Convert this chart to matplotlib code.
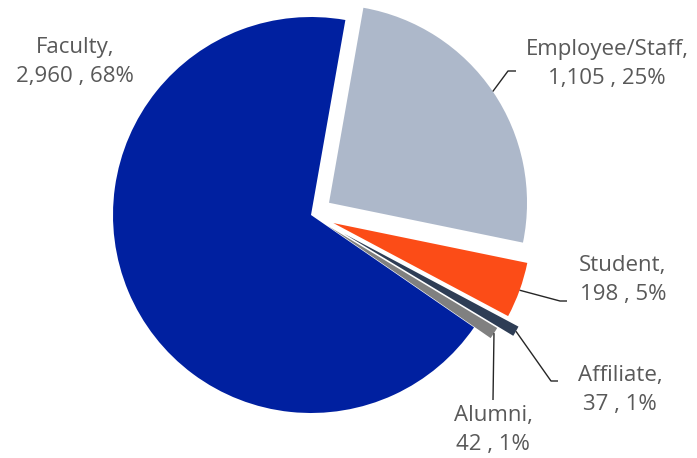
import numpy as np
import matplotlib
matplotlib.use("Agg")
import matplotlib.pyplot as plt

categories = ["Employee/Staff", "Student", "Affiliate", "Alumni", "Faculty"]
values = [1105, 198, 37, 42, 2960]
colors = ["#ADB8CA", "#FC4C17", "#2E3D55", "#808080", "#0020A0"]
explode = [0.11, 0.12, 0.19, 0.10, 0.0]

W, H = 697, 458
fig = plt.figure(figsize=(W / 100, H / 100), dpi=100)
ax = fig.add_axes([0, 0, 1, 1])

R = 198.0
cx, cy = 311.0, 215.0  # pixel coords (top-left origin)

wedges, _ = ax.pie(values, colors=colors, explode=explode, startangle=80,
                   counterclock=False, radius=1.0,
                   wedgeprops=dict(linewidth=0))

ax.set_xlim(-cx / R, (W - cx) / R)
ax.set_ylim(-(H - cy) / R, cy / R)
ax.axis("off")

total = sum(values)


def px(x, y):
    """pixel (top-left origin) -> data coords"""
    return ((x - cx) / R, (cy - y) / R)


def edge_point(w):
    th = np.deg2rad((w.theta1 + w.theta2) / 2)
    c = w.center
    return (c[0] + w.r * np.cos(th), c[1] + w.r * np.sin(th))


text_kw = dict(fontsize=16, color="#595959", ha="center", va="center",
               family=["Open Sans", "DejaVu Sans"], linespacing=1.55)

label_pos = {
    "Faculty": (75, 62),
    "Employee/Staff": (607, 64),
    "Student": (623, 280),
    "Affiliate": (620, 390),
    "Alumni": (493, 430),
}
# leader line elbow points (pixel) : (elbow, end)
leaders = {
    "Employee/Staff": [(508, 71), (516, 71)],
    "Student": [(560, 301), (567, 301)],
    "Affiliate": [(551, 381), (558, 381)],
    "Alumni": [(493, 400)],
}

for w, cat, v in zip(wedges, categories, values):
    pct = round(100 * v / total)
    txt = f"{cat},\n{v:,} , {pct}%"
    x, y = px(*label_pos[cat])
    ax.text(x, y, txt, **text_kw)
    if cat in leaders:
        pts = [edge_point(w)] + [px(*p) for p in leaders[cat]]
        xs, ys = zip(*pts)
        ax.plot(xs, ys, color="#262626", lw=1.0, solid_capstyle="butt")

fig.savefig("out.png", dpi=100)
